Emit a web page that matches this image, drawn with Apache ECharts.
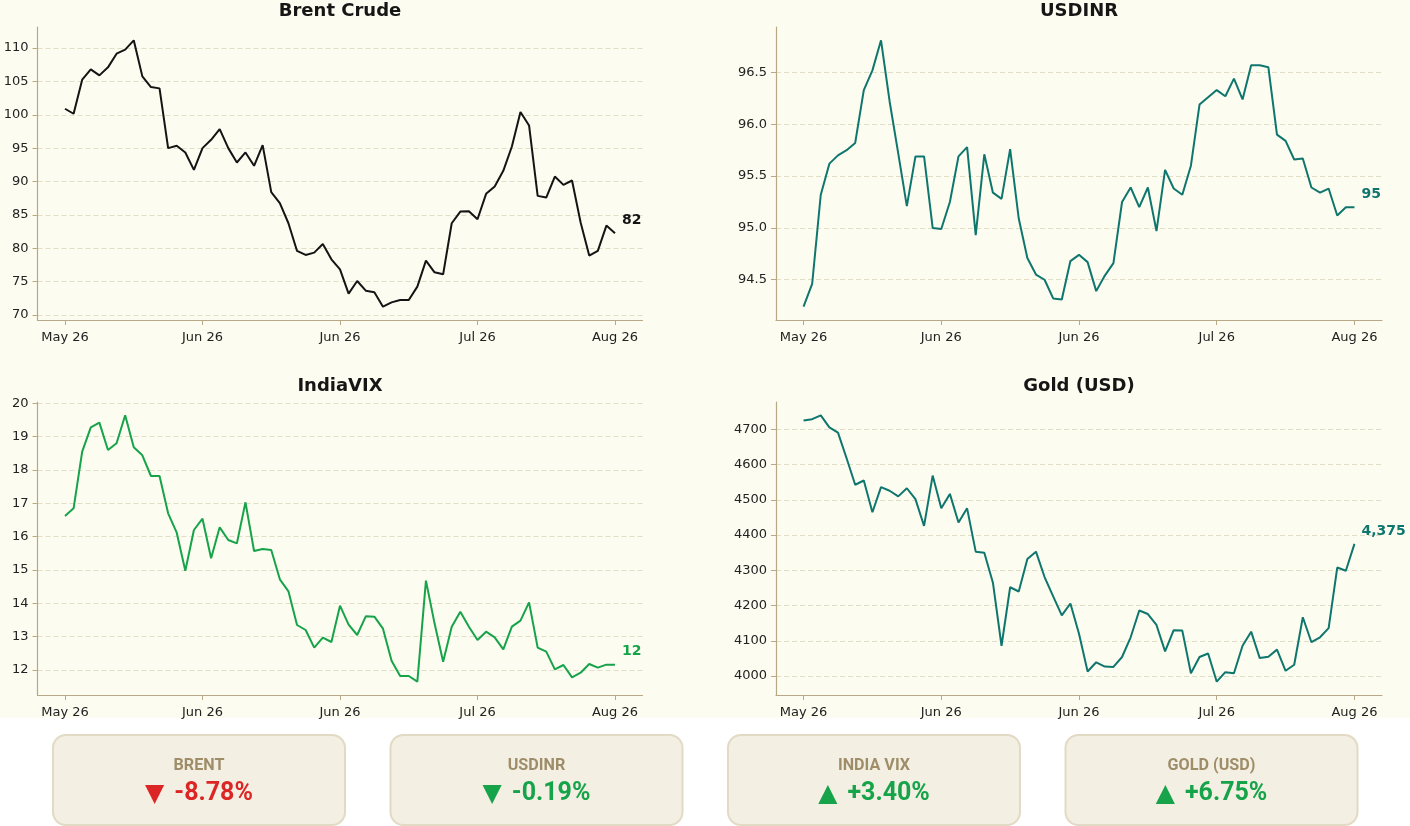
<!DOCTYPE html>
<html>
<head>
<meta charset="utf-8">
<script src="https://cdn.jsdelivr.net/npm/echarts@6/dist/echarts.min.js"></script>
<style>
  html, body { margin: 0; padding: 0; background: #ffffff; }
  #chart {
    width: 1410px; height: 826px;
    background: linear-gradient(to bottom, #fcfcf0 0, #fcfcf0 718px, #ffffff 718px);
  }
</style>
</head>
<body>
<div id="chart"></div>
<script>
// x ticks (index of the weekly point) and their labels
const dateTicks = [0, 16, 32, 48, 64];
const dateLabels = ['May 26', 'Jun 26', 'Jun 26', 'Jul 26', 'Aug 26'];

const titles = ['Brent Crude', 'USDINR', 'IndiaVIX', 'Gold (USD)'];

const brent = [
  100.9, 100.15, 105.25, 106.8, 105.9, 107.1, 109.15, 109.75, 111.15, 105.75, 104.15, 103.95,
  95.0, 95.35, 94.35, 91.75, 95.0, 96.25, 97.85, 95.0, 92.85, 94.35, 92.35, 95.45,
  88.4, 86.75, 83.75, 79.6, 79.0, 79.35, 80.65, 78.35, 76.85, 73.2, 75.1, 73.65,
  73.4, 71.25, 71.9, 72.25, 72.25, 74.25, 78.15, 76.4, 76.1, 83.75, 85.5, 85.55,
  84.35, 88.15, 89.25, 91.6, 95.25, 100.4, 98.4, 87.85, 87.6, 90.75, 89.5, 90.15,
  83.85, 78.9, 79.6, 83.4, 82.25
];
const usdinr = [
  94.24, 94.46, 95.32, 95.62, 95.70, 95.75, 95.82, 96.33, 96.52, 96.81, 96.22, 95.72,
  95.21, 95.69, 95.69, 95.00, 94.99, 95.25, 95.69, 95.78, 94.93, 95.71, 95.34, 95.28,
  95.76, 95.09, 94.71, 94.55, 94.50, 94.32, 94.31, 94.68, 94.74, 94.67, 94.39, 94.54,
  94.66, 95.25, 95.39, 95.20, 95.39, 94.97, 95.56, 95.38, 95.32, 95.60, 96.19, 96.26,
  96.33, 96.27, 96.44, 96.24, 96.57, 96.57, 96.55, 95.90, 95.84, 95.66, 95.67, 95.39,
  95.34, 95.38, 95.12, 95.20, 95.20
];
const indiaVix = [
  16.62, 16.85, 18.55, 19.28, 19.42, 18.6, 18.8, 19.64, 18.68, 18.44, 17.82, 17.82,
  16.7, 16.12, 14.98, 16.2, 16.54, 15.35, 16.28, 15.9, 15.8, 17.03, 15.57, 15.63,
  15.6, 14.72, 14.36, 13.35, 13.2, 12.67, 12.97, 12.84, 13.93, 13.36, 13.05, 13.61,
  13.6, 13.24, 12.28, 11.82, 11.82, 11.65, 14.68, 13.4, 12.25, 13.3, 13.75, 13.3,
  12.9, 13.15, 12.98, 12.62, 13.3, 13.48, 14.03, 12.67, 12.55, 12.02, 12.15, 11.78,
  11.92, 12.18, 12.07, 12.16, 12.16
];
const gold = [
  4725, 4729, 4740, 4706, 4691, 4618, 4543, 4555, 4465, 4536, 4526, 4510,
  4533, 4502, 4426, 4569, 4476, 4517, 4436, 4476, 4353, 4350, 4265, 4086,
  4252, 4240, 4332, 4353, 4281, 4226, 4172, 4206, 4120, 4013, 4039, 4027,
  4026, 4054, 4110, 4186, 4176, 4145, 4070, 4130, 4129, 4008, 4054, 4064,
  3984, 4011, 4008, 4086, 4126, 4051, 4055, 4075, 4015, 4032, 4167, 4096,
  4110, 4136, 4308, 4299, 4375
];

const brentTicks = [70, 75, 80, 85, 90, 95, 100, 105, 110];
const usdinrTicks = [94.5, 95.0, 95.5, 96.0, 96.5];
const vixTicks = [12, 13, 14, 15, 16, 17, 18, 19, 20];
const goldTicks = [4000, 4100, 4200, 4300, 4400, 4500, 4600, 4700];

const cardNames = ['BRENT', 'USDINR', 'INDIA VIX', 'GOLD (USD)'];
const cardChanges = ['-8.78%', '-0.19%', '+3.40%', '+6.75%'];

const RED = '#dc2626', GREEN = '#16a34a', TEAL = '#0f766e';
const panels = [
  { values: brent, ticks: brentTicks, color: '#141414', fmt: v => String(v) },
  { values: usdinr, ticks: usdinrTicks, color: TEAL, fmt: v => v.toFixed(1) },
  { values: indiaVix, ticks: vixTicks, color: GREEN, fmt: v => String(v) },
  { values: gold, ticks: goldTicks, color: TEAL, fmt: v => String(v) }
];

const SPINE = '#b9a886';
const GRIDLINE = '#e2ddc7';
const TXT = '#222222';
const FONT = 'DejaVu Sans';
const CARD_FONT = 'Roboto, "Noto Sans", sans-serif';

// matplotlib-like 5% padding around data
const padMin = e => e.min - 0.05 * (e.max - e.min);
const padMax = e => e.max + 0.05 * (e.max - e.min);

const boxes = [
  { left: 37.5, top: 27, width: 605, height: 293 },
  { left: 776, top: 27, width: 606, height: 293 },
  { left: 37.5, top: 402, width: 605, height: 293 },
  { left: 776, top: 402, width: 606, height: 293 }
];

const grid = [], xAxis = [], yAxis = [], series = [], title = [];
panels.forEach((p, k) => {
  const b = boxes[k];
  grid.push(Object.assign({ outerBoundsMode: 'none', containLabel: false }, b));
  title.push({
    text: titles[k],
    left: b.left + b.width / 2,
    top: b.top - 25,
    textAlign: 'center',
    padding: 0,
    textStyle: { fontFamily: FONT, fontSize: 18, fontWeight: 'bold', color: '#161616' }
  });
  xAxis.push({
    type: 'value', gridIndex: k, min: padMin, max: padMax,
    axisLine: { show: true, onZero: false, lineStyle: { color: SPINE, width: 1.2 } },
    axisTick: { show: true, length: 5, lineStyle: { color: SPINE, width: 1 }, customValues: dateTicks },
    axisLabel: {
      customValues: dateTicks, margin: 11, color: TXT, fontFamily: FONT, fontSize: 13,
      formatter: v => dateLabels[dateTicks.indexOf(Math.round(v))] || ''
    },
    splitLine: { show: false }
  });
  yAxis.push({
    type: 'value', gridIndex: k, min: padMin, max: padMax,
    axisLine: { show: true, onZero: false, lineStyle: { color: SPINE, width: 1.2 } },
    axisTick: { show: true, length: 5, lineStyle: { color: SPINE, width: 1 }, customValues: p.ticks },
    axisLabel: { customValues: p.ticks, margin: 9, color: TXT, fontFamily: FONT, fontSize: 13, formatter: p.fmt },
    splitLine: { show: true, lineStyle: { color: GRIDLINE, type: [5, 3], width: 1 } }
  });
  series.push({
    type: 'line', xAxisIndex: k, yAxisIndex: k,
    data: p.values.map((v, i) => [i, v]),
    showSymbol: false, symbol: 'none',
    lineStyle: { color: p.color, width: 2 },
    itemStyle: { color: p.color },
    endLabel: {
      show: true, distance: 7, offset: [0, -13],
      formatter: q => Math.round(q.value[1]).toLocaleString('en-US'),
      color: p.color, fontFamily: FONT, fontSize: 14, fontWeight: 'bold'
    },
    emphasis: { disabled: true }
  });
});

// summary cards under the charts
const graphic = [];
cardNames.forEach((name, k) => {
  const x = 53 + k * 337.5, y = 735, w = 292, h = 90;
  const cx = x + w / 2;
  const up = cardChanges[k].startsWith('+');
  const col = k === 0 ? RED : GREEN;
  graphic.push({
    type: 'rect', shape: { x: x, y: y, width: w, height: h, r: 13 },
    style: { fill: '#f3f0e3', stroke: '#e2dac4', lineWidth: 2 }
  });
  graphic.push({
    type: 'text', x: cx, y: 766, scaleX: 0.95, originX: 0, originY: 0,
    style: {
      text: name, align: 'center', verticalAlign: 'middle',
      fontFamily: CARD_FONT, fontSize: 17, fontWeight: 'bold', fill: '#9f8d69'
    }
  });
  graphic.push({
    type: 'text', x: cx, y: 794,
    style: {
      text: '{t|' + (up ? '▲' : '▼') + '}{n|' + cardChanges[k] + '}',
      align: 'center', verticalAlign: 'middle',
      rich: {
        t: { fontFamily: FONT, fontSize: 25, fill: col, color: col, padding: [0, 10, 0, 0] },
        n: { fontFamily: CARD_FONT, fontSize: 25, fontWeight: 'bold', fill: col, color: col }
      }
    }
  });
});

const chart = echarts.init(document.getElementById('chart'), null, { renderer: 'canvas' });
chart.setOption({
  animation: false,
  backgroundColor: 'transparent',
  title: title,
  grid: grid,
  xAxis: xAxis,
  yAxis: yAxis,
  series: series,
  graphic: graphic
});
</script>
</body>
</html>
